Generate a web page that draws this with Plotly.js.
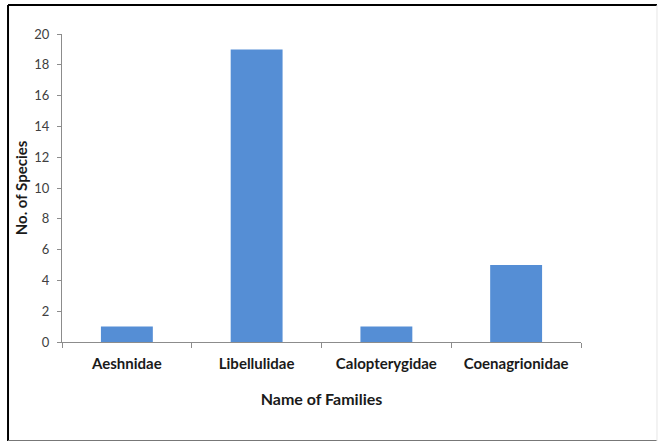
<!DOCTYPE html>
<html>
<head>
<meta charset="utf-8">
<script src="https://cdn.plot.ly/plotly-3.0.1.min.js"></script>
<style>
  html, body { margin: 0; padding: 0; background: #ffffff; }
  #chart { width: 659px; height: 441px; }
</style>
</head>
<body>
<div id="chart"></div>
<script>
// Dragonfly / damselfly families and number of species recorded in each
const families = ['Aeshnidae', 'Libellulidae', 'Calopterygidae', 'Coenagrionidae'];
const speciesCount = [1, 19, 1, 5];
const yTicks = [0, 2, 4, 6, 8, 10, 12, 14, 16, 18, 20];

const fontFamily = 'Lato, "Open Sans", "DejaVu Sans", sans-serif';

const trace = {
  type: 'bar',
  x: families,
  y: speciesCount,
  width: 0.4,
  marker: { color: '#558ed5', line: { width: 0 } },
  hoverinfo: 'x+y'
};

// Helper for the outer frame around the whole chart area (paper coordinates)
function frameLine(x0, y0, x1, y1, color, width) {
  return {
    type: 'line', xref: 'paper', yref: 'paper',
    x0: x0, y0: y0, x1: x1, y1: y1,
    line: { color: color, width: width },
    layer: 'above'
  };
}
const fL = -0.104, fR = 1.1464, fT = 1.094, fB = -0.3215;

const layout = {
  width: 659,
  height: 441,
  margin: { l: 62, r: 78, t: 34, b: 99, pad: 0 },
  paper_bgcolor: '#ffffff',
  plot_bgcolor: '#ffffff',
  showlegend: false,
  bargap: 0.6,
  font: { family: fontFamily, color: '#404040' },
  xaxis: {
    type: 'category',
    range: [-0.5, 3.5],
    showline: true,
    linecolor: '#8c8c8c',
    linewidth: 1,
    showgrid: false,
    zeroline: false,
    ticks: 'outside',
    tickson: 'boundaries',
    ticklen: 5,
    tickcolor: '#8c8c8c',
    ticklabelstandoff: 8,
    tickfont: { family: fontFamily, size: 15, color: '#1a1a1a', weight: 'bold' },
    title: {
      text: 'Name of Families',
      font: { family: fontFamily, size: 16, color: '#1a1a1a', weight: 'bold' },
      standoff: 22
    }
  },
  yaxis: {
    range: [0, 20],
    tickmode: 'array',
    tickvals: yTicks,
    ticktext: yTicks.map(String),
    showline: true,
    linecolor: '#8c8c8c',
    linewidth: 1,
    showgrid: false,
    zeroline: false,
    ticks: 'outside',
    ticklen: 4,
    tickcolor: '#8c8c8c',
    ticklabelstandoff: 5,
    tickfont: { family: fontFamily, size: 13, color: '#404040' },
    title: {
      text: 'No. of Species',
      font: { family: fontFamily, size: 15, color: '#1a1a1a', weight: 'bold' },
      standoff: 3
    }
  },
  shapes: [
    frameLine(fL, fT, fR, fT, '#000000', 2),
    frameLine(fL, fT, fL, fB, '#000000', 2),
    frameLine(fL, fB, fR, fB, '#777777', 2),
    frameLine(fR, fT, fR, fB, '#e6e6e6', 1)
  ]
};

Plotly.newPlot('chart', [trace], layout, { displayModeBar: false, staticPlot: true });
</script>
</body>
</html>
